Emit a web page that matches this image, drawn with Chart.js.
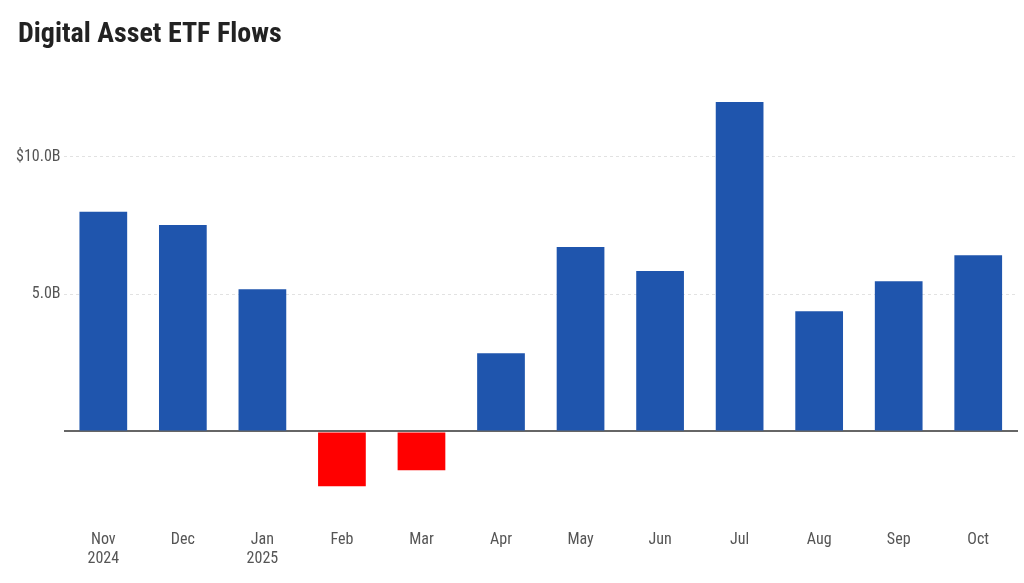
<!DOCTYPE html>
<html><head><meta charset="utf-8">
<script src="https://cdn.jsdelivr.net/npm/chart.js@4"></script>
<style>
html,body{margin:0;padding:0;background:#fff;}
#wrap{position:relative;width:1024px;height:583px;}
#title{position:absolute;left:18px;top:16px;font-family:'Liberation Sans Narrow','Roboto Condensed',sans-serif;font-weight:bold;font-size:28px;color:#222;line-height:34px;margin:0;}
canvas{position:absolute;left:0;top:0;}
</style>
</head><body>
<div id="wrap"><canvas id="c" width="1024" height="583" style="width:1024px;height:583px"></canvas><h1 id="title">Digital Asset ETF Flows</h1></div>
<script>
const categories = [["Nov","2024"],"Dec",["Jan","2025"],"Feb","Mar","Apr","May","Jun","Jul","Aug","Sep","Oct"];
const flows = [8.0, 7.52, 5.18, -2.0, -1.42, 2.85, 6.72, 5.84, 12.0, 4.38, 5.47, 6.42];
const yTicks = [0, 5, 10];
const FONT = "'Liberation Sans Narrow', 'Roboto Condensed', 'DejaVu Sans Condensed', sans-serif";

new Chart(document.getElementById('c'), {
  type: 'bar',
  data: {
    labels: categories,
    datasets: [{
      data: flows,
      backgroundColor: flows.map(v => v < 0 ? '#ff0000' : '#1f55ad'),
      barPercentage: 0.6,
      categoryPercentage: 1.0
    }]
  },
  options: {
    responsive: false,
    animation: false,
    devicePixelRatio: 1,
    layout: { padding: { left: 13, right: 6, top: 102, bottom: 4 } },
    plugins: {
      legend: { display: false },
      tooltip: { enabled: false },
      title: { display: false }
    },
    scales: {
      x: {
        grid: { display: false, drawTicks: false },
        border: { display: false },
        ticks: { color: '#555', font: { family: FONT, size: 16 }, padding: 10, maxRotation: 0, autoSkip: false }
      },
      y: {
        min: -3.25, max: 12,
        afterBuildTicks: (axis) => { axis.ticks = yTicks.map(v => ({ value: v })); },
        grid: {
          drawTicks: false,
          color: (ctx) => ctx.tick && ctx.tick.value === 0 ? '#666' : '#e2e2e2',
          lineWidth: (ctx) => ctx.tick && ctx.tick.value === 0 ? 2 : 1
        },
        border: { display: false, dash: (ctx) => ctx.tick && ctx.tick.value === 0 ? [] : [3, 3] },
        ticks: {
          color: '#555',
          font: { family: FONT, size: 16 },
          padding: 3,
          callback: (v) => v === 0 ? '' : (v === 10 ? '$10.0B' : v.toFixed(1) + 'B')
        }
      }
    }
  }
});
</script>
</body></html>
